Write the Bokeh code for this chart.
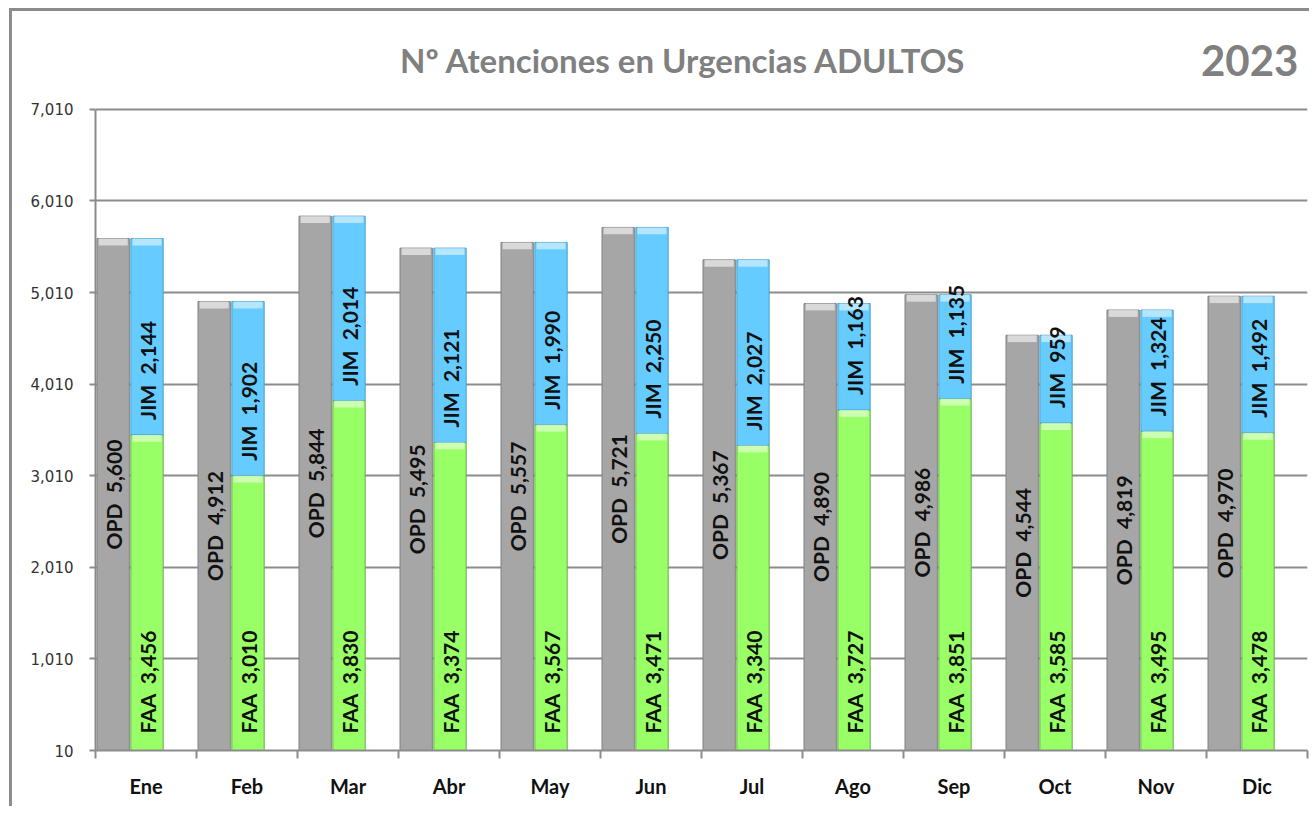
import numpy as np
from bokeh.plotting import figure
from bokeh.models import FixedTicker, NumeralTickFormatter, ColumnDataSource, Range1d, Label
from bokeh.core.properties import value
from bokeh.embed import file_html
from bokeh.resources import INLINE

months = ["Ene", "Feb", "Mar", "Abr", "May", "Jun", "Jul", "Ago", "Sep", "Oct", "Nov", "Dic"]
opd = [5600, 4912, 5844, 5495, 5557, 5721, 5367, 4890, 4986, 4544, 4819, 4970]
faa = [3456, 3010, 3830, 3374, 3567, 3471, 3340, 3727, 3851, 3585, 3495, 3478]
jim = [2144, 1902, 2014, 2121, 1990, 2250, 2027, 1163, 1135, 959, 1324, 1492]
y_ticks = [10, 1010, 2010, 3010, 4010, 5010, 6010, 7010]
title_text = "Nº Atenciones en Urgencias ADULTOS"
year_text = "2023"

BASE = 10
FONT = "Lato"
SP = "\u00a0\u00a0"

idx = np.arange(len(months)) + 0.5
x_opd = idx - 0.325
x_col = idx + 0.01
W = 0.32

opd_a = np.array(opd, dtype=float)
faa_a = np.array(faa, dtype=float)
jim_a = np.array(jim, dtype=float)

src = ColumnDataSource(dict(
    x_opd=x_opd, x_col=x_col,
    opd=opd_a, faa=faa_a, jim_top=faa_a + jim_a,
    opd_mid=(BASE + opd_a) / 2,
    base=np.full(len(months), BASE, dtype=float),
    opd_lab=["OPD" + SP + "{:,}".format(v) for v in opd],
    faa_lab=["FAA" + SP + "{:,}".format(v) for v in faa],
    jim_lab=["JIM" + SP + "{:,}".format(v) for v in jim],
))

p = figure(width=1300, height=798, output_backend="svg", toolbar_location=None,
           x_range=Range1d(0, len(months)), y_range=Range1d(BASE, 8035),
           min_border_left=83, min_border_right=5, min_border_top=4, min_border_bottom=59)
p.styles = {"margin-left": "9px", "margin-top": "8px",
            "border-left": "3px solid #8c8c8c", "border-top": "3px solid #8c8c8c"}
p.outline_line_color = None
p.background_fill_color = "white"
p.border_fill_color = "white"

# grid
p.xgrid.grid_line_color = None
p.ygrid.ticker = FixedTicker(ticks=y_ticks)
p.ygrid.grid_line_color = "#8c8c8c"
p.ygrid.grid_line_width = 2

# y axis
p.yaxis.ticker = FixedTicker(ticks=y_ticks)
p.yaxis.bounds = (BASE, 7010)
p.yaxis.formatter = NumeralTickFormatter(format="0,0")
p.yaxis.axis_line_color = "#8c8c8c"
p.yaxis.axis_line_width = 2
p.yaxis.major_tick_line_color = "#8c8c8c"
p.yaxis.major_tick_line_width = 2
p.yaxis.major_tick_out = 6
p.yaxis.major_tick_in = 0
p.yaxis.minor_tick_line_color = None
p.yaxis.major_label_text_font = "DejaVu Sans"
p.yaxis.major_label_text_font_size = "15px"
p.yaxis.major_label_text_color = "#333333"
p.yaxis.major_label_standoff = 16

# x axis
p.xaxis.ticker = FixedTicker(ticks=list(idx), minor_ticks=list(range(len(months) + 1)))
p.xaxis.major_label_overrides = {float(v): m for v, m in zip(idx, months)}
p.xaxis.axis_line_color = "#8c8c8c"
p.xaxis.axis_line_width = 2
p.xaxis.major_tick_line_color = None
p.xaxis.minor_tick_line_color = "#8c8c8c"
p.xaxis.minor_tick_line_width = 2
p.xaxis.minor_tick_out = 8
p.xaxis.minor_tick_in = 0
p.xaxis.major_label_text_font = FONT
p.xaxis.major_label_text_font_style = "bold"
p.xaxis.major_label_text_font_size = "20px"
p.xaxis.major_label_text_color = "#111111"
p.xaxis.major_label_standoff = 15

# bars
p.vbar(x="x_opd", width=W, bottom="base", top="opd", source=src,
       fill_color="#a6a6a6", line_color="#808080", line_width=1)
p.vbar(x="x_col", width=W, bottom="base", top="faa", source=src,
       fill_color="#99ff66", line_color="#6aa84f", line_width=1)
p.vbar(x="x_col", width=W, bottom="faa", top="jim_top", source=src,
       fill_color="#66ccff", line_color="#4a9fcc", line_width=1)

# bevel highlights at top of bars
hl = 75
src2 = ColumnDataSource(dict(
    x_opd=x_opd, x_col=x_col,
    opd_t=opd_a, opd_b=opd_a - hl,
    faa_t=faa_a, faa_b=faa_a - hl,
    jim_t=faa_a + jim_a, jim_b=faa_a + jim_a - hl,
))
p.vbar(x="x_opd", width=W * 0.9, bottom="opd_b", top="opd_t", source=src2,
       fill_color="#e6e6e6", fill_alpha=0.8, line_color=None)
p.vbar(x="x_col", width=W * 0.9, bottom="faa_b", top="faa_t", source=src2,
       fill_color="#d9ffc4", fill_alpha=0.8, line_color=None)
p.vbar(x="x_col", width=W * 0.9, bottom="jim_b", top="jim_t", source=src2,
       fill_color="#c8ecff", fill_alpha=0.8, line_color=None)

# labels
common = dict(angle=np.pi / 2, text_font=value(FONT), text_font_style="bold",
              text_font_size="21px", text_color="#111111", text_baseline="middle")
p.text(x="x_opd", y="opd_mid", text="opd_lab", source=src, text_align="center", **common)
p.text(x="x_col", y="base", text="faa_lab", source=src, text_align="left", y_offset=-17, **common)
p.text(x="x_col", y="faa", text="jim_lab", source=src, text_align="left", y_offset=-15, **common)

# titles
p.add_layout(Label(x=5.82, y=7544, text=title_text, text_font=FONT, text_font_style="bold",
                   text_font_size="33px", text_color="#808080", text_align="center",
                   text_baseline="middle"))
p.add_layout(Label(x=11.91, y=7544, text=year_text, text_font=FONT, text_font_style="bold",
                   text_font_size="42px", text_color="#808080", text_align="right",
                   text_baseline="middle"))

open("out.html", "w").write(file_html(p, INLINE))
